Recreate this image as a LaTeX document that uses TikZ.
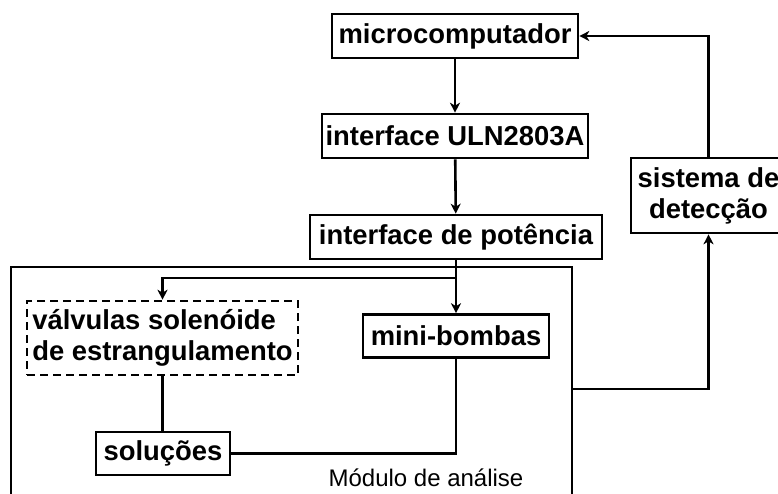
\documentclass[tikz,border=0pt]{standalone}
\usepackage{fontspec}
\setmainfont{Liberation Sans}
\usetikzlibrary{positioning,arrows.meta}

\tikzstyle{block}=[rectangle, draw=black, line width=2.6pt, fill=white, minimum height=44pt, inner sep=0pt, text centered, font=\fontsize{27.4}{31}\selectfont\bfseries]
\tikzstyle{dashblock}=[block, dash pattern=on 8pt off 5pt, align=left]
\tikzstyle{arrow2} = [line width=2.6pt,->,>={Stealth[length=10pt,width=10pt,inset=3pt]}]
\tikzstyle{line} = [line width=2.6pt]

\begin{document}
\begin{tikzpicture}[x=1pt, y=-1pt]
\useasboundingbox (0,0) rectangle (778,493);
\clip (0,0) rectangle (778,493);
\node (modulo) [rectangle, draw=black, line width=2.6pt, minimum width=561pt, minimum height=244pt, inner sep=0pt] at (291.5,389) {};
\node (rotulo) [font=\fontsize{24}{28}\selectfont] at (426,478) {Módulo de análise};
\node (micro) [block, minimum width=246pt] at (455,36) {microcomputador};
\node (uln) [block, minimum width=266pt] at (455,136) {interface ULN2803A};
\node (pot) [block, minimum width=292pt] at (456,237) {interface de potência};
\node (valv) [dashblock, minimum width=271pt, minimum height=74pt] at (162.5,338) {válvulas solenóide\\de estrangulamento};
\node (bombas) [block, minimum width=186pt, minimum height=43pt] at (456,336) {mini-bombas};
\node (sol) [block, minimum width=134pt, minimum height=43pt] at (163,453.5) {soluções};
\node (sistema) [block, align=center, minimum width=155pt, minimum height=75pt] at (708.5,195.5) {sistema de\\detecção};
\coordinate (split) at (456,278);
\draw[arrow2](micro)--(uln);
\draw[arrow2](uln)--(pot);
\draw[line](pot.south)--(split);
\draw[arrow2](split)-|(valv.north);
\draw[arrow2](split)--(bombas.north);
\draw[line](valv.south)--(valv.south|-sol.north);
\draw[line](bombas.south)|-(sol.east);
\draw[arrow2](modulo.east)-|(sistema.south);
\draw[arrow2](sistema.north)|-(micro.east);
\end{tikzpicture}
\end{document}
